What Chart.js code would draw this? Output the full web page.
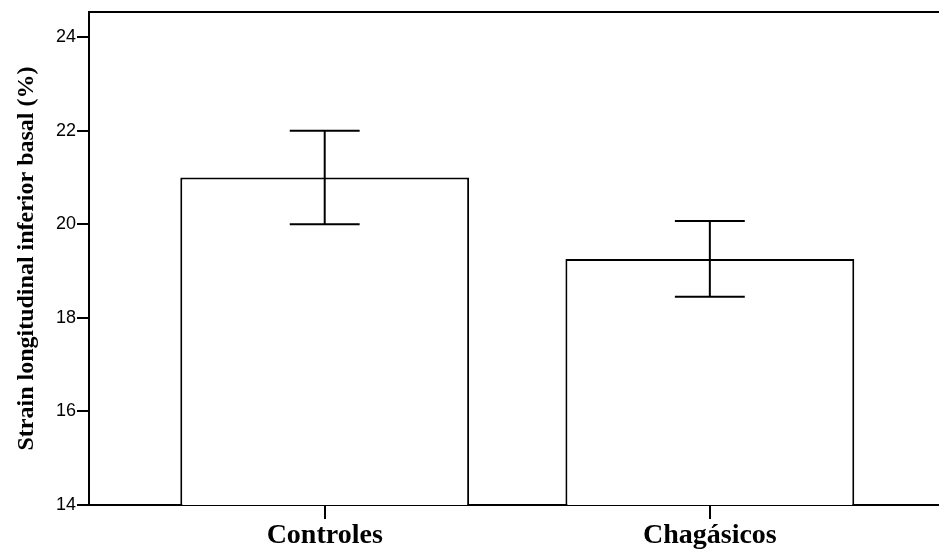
<!DOCTYPE html>
<html>
<head>
<meta charset="utf-8">
<title>Strain longitudinal inferior basal</title>
<script src="https://cdn.jsdelivr.net/npm/chart.js@4/dist/chart.umd.min.js"></script>
<style>
  html, body { margin: 0; padding: 0; background: #ffffff; }
  #wrap { width: 939px; height: 552px; }
</style>
</head>
<body>
<div id="wrap"><canvas id="chart" width="939" height="552"></canvas></div>
<script>
// Group means and error half-widths (strain, %)
const categories = ['Controles', 'Chagásicos'];
const means = [21.0, 19.26];
const errors = [1.0, 0.81];
const yTicks = [14, 16, 18, 20, 22, 24];

const black = '#000000';
const serifBold = { family: '"Liberation Serif", "Times New Roman", serif', weight: 'bold' };

// Error bars with horizontal caps, centred on each bar
const errorBars = {
  id: 'errorBars',
  afterDatasetsDraw(chart) {
    const { ctx, scales: { x, y } } = chart;
    const meta = chart.getDatasetMeta(0);
    ctx.save();
    ctx.strokeStyle = black;
    ctx.lineWidth = 2;
    means.forEach((m, i) => {
      const px = x.getPixelForValue(i);
      const top = y.getPixelForValue(m + errors[i]);
      const bot = y.getPixelForValue(m - errors[i]);
      const half = meta.data[i].width * 0.121;
      ctx.beginPath();
      ctx.moveTo(px, top); ctx.lineTo(px, bot);
      ctx.moveTo(px - half, top); ctx.lineTo(px + half, top);
      ctx.moveTo(px - half, bot); ctx.lineTo(px + half, bot);
      ctx.stroke();
    });
    ctx.restore();
  }
};

new Chart(document.getElementById('chart'), {
  type: 'bar',
  data: {
    datasets: [{
      data: categories.map((c, i) => ({ x: i, y: means[i] })),
      backgroundColor: '#ffffff',
      borderColor: black,
      borderWidth: 2,
      categoryPercentage: 1,
      barPercentage: 0.75
    }]
  },
  options: {
    responsive: false,
    animation: false,
    devicePixelRatio: 1,
    layout: { padding: { top: 12, right: 0, left: 0, bottom: 0 } },
    plugins: { legend: { display: false }, tooltip: { enabled: false } },
    scales: {
      x: {
        type: 'linear',
        position: 'bottom',
        offset: false,
        min: -0.612,
        max: 1.595,
        afterBuildTicks: (s) => { s.ticks = categories.map((c, i) => ({ value: i })); },
        afterFit: (s) => { s.height = 47; },
        grid: { display: true, offset: false, drawOnChartArea: false, drawTicks: true, tickLength: 14, color: black, lineWidth: 2 },
        border: { display: true, color: black, width: 2 },
        ticks: {
          padding: 0,
          color: black,
          maxRotation: 0,
          autoSkip: false,
          font: { ...serifBold, size: 28 },
          callback: (v) => categories[v]
        }
      },
      xTop: {
        type: 'linear',
        position: 'top',
        offset: false,
        min: 0,
        max: 1,
        afterFit: (s) => { s.height = 0; },
        grid: { display: false },
        border: { display: true, color: black, width: 2 },
        ticks: { display: false }
      },
      y: {
        type: 'linear',
        min: 14,
        max: 24.54,
        afterBuildTicks: (s) => { s.ticks = yTicks.map(v => ({ value: v })); },
        afterFit: (s) => { s.width = 89; },
        grid: { display: true, drawOnChartArea: false, drawTicks: true, tickLength: 12, color: black, lineWidth: 2 },
        border: { display: true, color: black, width: 2 },
        ticks: {
          padding: 1,
          color: black,
          font: { family: '"Liberation Sans", Arial, sans-serif', size: 18 }
        },
        title: {
          display: true,
          text: 'Strain longitudinal inferior basal (%)',
          color: black,
          padding: { top: 12.6, bottom: 0 },
          font: { ...serifBold, size: 24 }
        }
      }
    }
  },
  plugins: [errorBars]
});
</script>
</body>
</html>
